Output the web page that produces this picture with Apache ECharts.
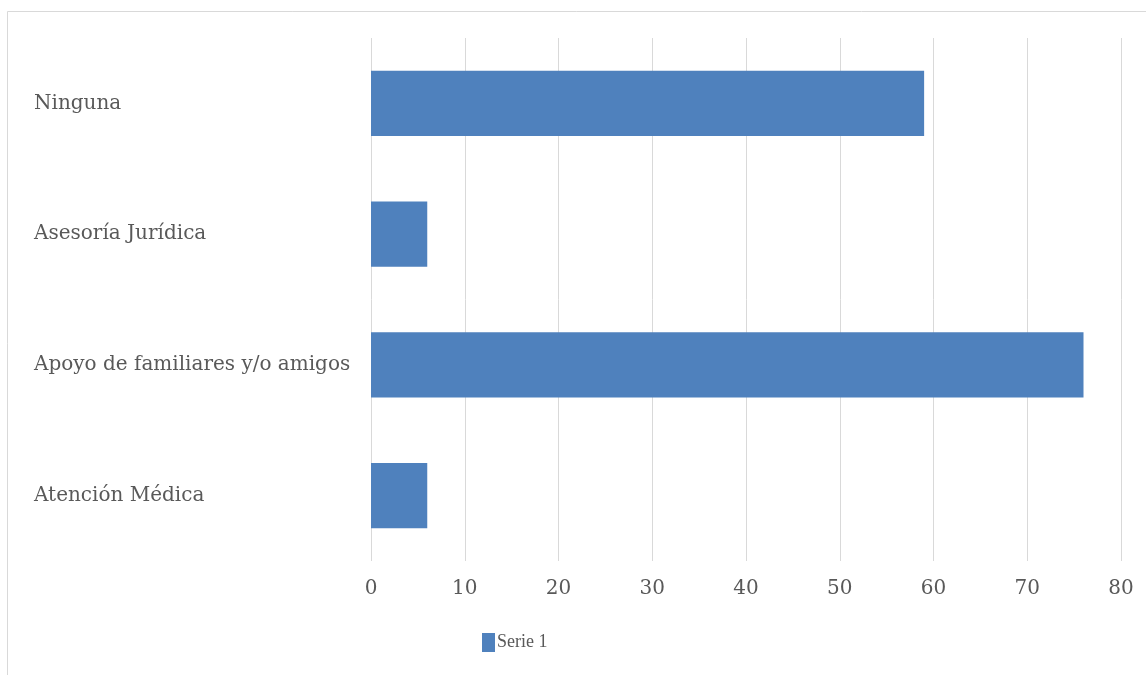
<!DOCTYPE html>
<html>
<head>
<meta charset="utf-8">
<script src="https://cdn.jsdelivr.net/npm/echarts@6/dist/echarts.min.js"></script>
<style>
  html, body { margin: 0; padding: 0; background: #fff; }
  #chart { width: 1146px; height: 675px; }
</style>
</head>
<body>
<div id="chart"></div>
<script>
// Categories listed top to bottom
const categories = ['Ninguna', 'Asesoría Jurídica', 'Apoyo de familiares y/o amigos', 'Atención Médica'];
const serie1 = [59, 6, 76, 6];
const seriesName = 'Serie 1';
const axisMin = 0, axisMax = 80, axisStep = 10;

const serifWide = '"DejaVu Serif", serif';
const serifNarrow = '"Liberation Serif", serif';
const textColor = '#595959';
const chart = echarts.init(document.getElementById('chart'));

chart.setOption({
  backgroundColor: '#ffffff',
  animation: false,
  graphic: [
    { type: 'line', shape: { x1: 7.5, y1: 11.5, x2: 1146, y2: 11.5 }, style: { stroke: '#d9d9d9', lineWidth: 1 } },
    { type: 'line', shape: { x1: 7.5, y1: 11.5, x2: 7.5, y2: 675 }, style: { stroke: '#d9d9d9', lineWidth: 1 } }
  ],
  grid: { left: 371, right: 25, top: 38, bottom: 114 },
  legend: {
    left: 477, top: 628,
    itemWidth: 13, itemHeight: 19, itemGap: 10,
    icon: 'rect',
    textStyle: { fontFamily: serifNarrow, fontSize: 18, color: textColor, padding: [0, 0, 0, -3] },
    data: [seriesName]
  },
  xAxis: {
    type: 'value', min: axisMin, max: axisMax, interval: axisStep,
    axisLine: { show: false }, axisTick: { show: false },
    axisLabel: { fontFamily: serifWide, fontSize: 20, color: textColor, margin: 18 },
    splitLine: { show: true, lineStyle: { color: '#d9d9d9', width: 1 } }
  },
  yAxis: {
    type: 'category', data: categories, inverse: true,
    axisLine: { show: false }, axisTick: { show: false },
    axisLabel: { fontFamily: serifWide, fontSize: 20, color: textColor, align: 'left', margin: 337 }
  },
  series: [{
    name: seriesName, type: 'bar', data: serie1,
    barWidth: '50%',
    itemStyle: { color: '#4f81bd' }
  }]
});
</script>
</body>
</html>
